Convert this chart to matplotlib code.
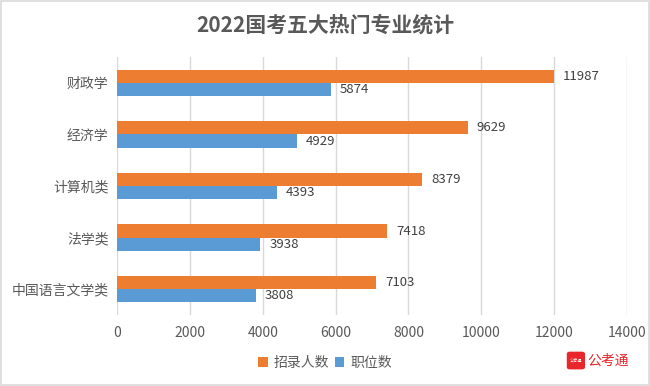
import matplotlib.pyplot as plt
import numpy as np
from matplotlib.patches import FancyBboxPatch, Rectangle

plt.rcParams["font.family"] = ["Noto Sans CJK SC", "DejaVu Sans"]

categories = ["财政学", "经济学", "计算机类", "法学类", "中国语言文学类"]
recruits = [11987, 9629, 8379, 7418, 7103]
positions = [5874, 4929, 4393, 3938, 3808]
series_names = ["招录人数", "职位数"]
x_ticks = [0, 2000, 4000, 6000, 8000, 10000, 12000, 14000]

orange = "#ED7D31"
blue = "#5B9BD5"
text_color = "#595959"
grid_color = "#D9D9D9"

fig = plt.figure(figsize=(6.5, 3.86), dpi=100)
ax = fig.add_axes([0.18, 0.184, 0.7846, 0.668])

y = np.arange(len(categories))
h = 0.255
ax.barh(y - h / 2, recruits, height=h, color=orange, label=series_names[0])
ax.barh(y + h / 2, positions, height=h, color=blue, label=series_names[1])

for yi, v in zip(y, recruits):
    ax.text(v + 250, yi - h / 2, str(v), va="center", ha="left", fontsize=9.5, color="#404040")
for yi, v in zip(y, positions):
    ax.text(v + 250, yi + h / 2, str(v), va="center", ha="left", fontsize=9.5, color="#404040")

ax.set_yticks(y)
ax.set_yticklabels(categories, fontsize=10, color=text_color)
ax.set_ylim(len(categories) - 0.5, -0.5)
ax.set_xlim(0, 14000)
ax.set_xticks(x_ticks)
ax.set_xticklabels([str(t) for t in x_ticks], fontsize=10, color=text_color)
ax.tick_params(axis="both", length=0, pad=8)
ax.tick_params(axis="y", pad=6)
ax.grid(axis="x", color=grid_color, linewidth=1)
ax.set_axisbelow(True)
for s in ax.spines.values():
    s.set_visible(False)

fig.text(0.5, 0.935, "2022国考五大热门专业统计", ha="center", va="center",
         fontsize=15, fontweight="bold", color=text_color)

fig.legend(loc="center", bbox_to_anchor=(0.5, 0.06), ncol=2, frameon=False,
           fontsize=10, handlelength=0.7, handleheight=0.7, handletextpad=0.4,
           columnspacing=0.4, labelcolor=text_color)

# figure border
fig.patches.append(Rectangle((0.002, 0.003), 0.996, 0.994, transform=fig.transFigure,
                             fill=False, edgecolor="#D9D9D9", linewidth=1.2))

# watermark logo
fig.patches.append(FancyBboxPatch((0.874, 0.045), 0.024, 0.042, boxstyle="round,pad=0.002,rounding_size=0.005",
                                  transform=fig.transFigure, facecolor="#E8262B", edgecolor="none"))
fig.text(0.886, 0.066, "公考通", fontsize=3, color="white", ha="center", va="center")
fig.text(0.903, 0.066, "公考通", fontsize=10, color="#E8262B", ha="left", va="center")

fig.savefig("out.png", dpi=100)
